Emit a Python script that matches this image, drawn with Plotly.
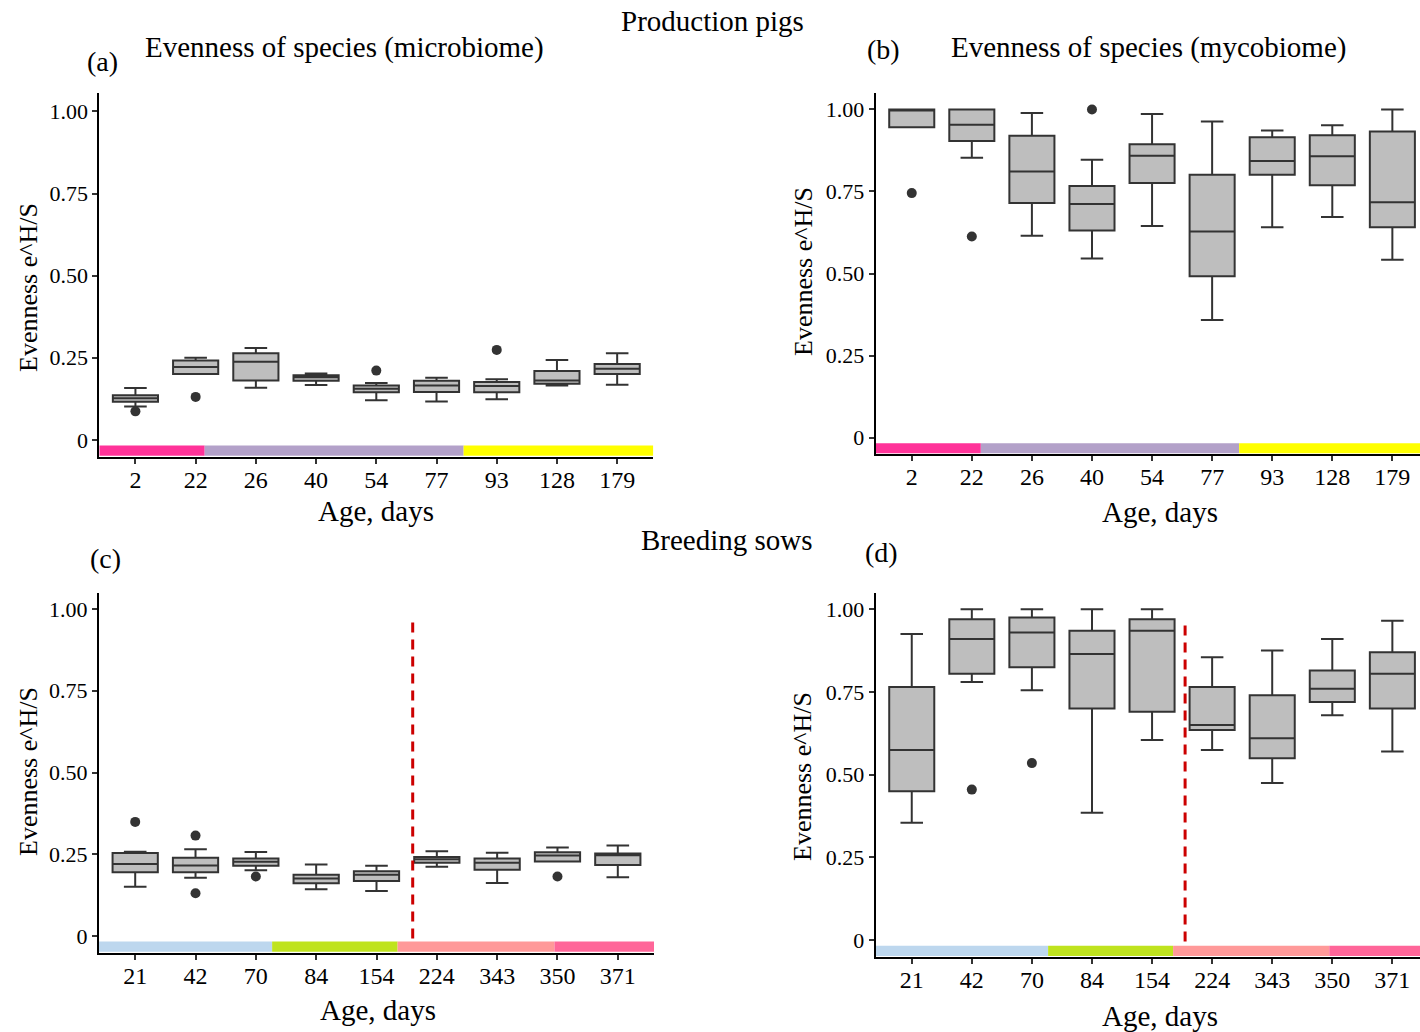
import plotly.graph_objects as go

# ---------------- data ----------------
prod_ages = ["2", "22", "26", "40", "54", "77", "93", "128", "179"]
sow_ages = ["21", "42", "70", "84", "154", "224", "343", "350", "371"]

# (a) microbiome, production pigs
a_low = [0.102, 0.201, 0.159, 0.167, 0.121, 0.117, 0.124, 0.166, 0.168]
a_q1 = [0.116, 0.201, 0.181, 0.180, 0.145, 0.146, 0.145, 0.171, 0.201]
a_med = [0.127, 0.222, 0.238, 0.191, 0.156, 0.166, 0.164, 0.181, 0.217]
a_q3 = [0.136, 0.242, 0.264, 0.197, 0.166, 0.180, 0.176, 0.210, 0.231]
a_up = [0.158, 0.250, 0.280, 0.202, 0.173, 0.189, 0.185, 0.243, 0.264]
a_out_x = ["2", "22", "54", "93"]
a_out_y = [0.087, 0.131, 0.211, 0.274]

# (b) mycobiome, production pigs
b_low = [0.946, 0.853, 0.615, 0.546, 0.645, 0.358, 0.641, 0.672, 0.542]
b_q1 = [0.946, 0.904, 0.715, 0.631, 0.776, 0.492, 0.801, 0.769, 0.641]
b_med = [1.000, 0.953, 0.811, 0.712, 0.859, 0.628, 0.843, 0.857, 0.717]
b_q3 = [1.000, 1.000, 0.920, 0.767, 0.894, 0.801, 0.915, 0.921, 0.933]
b_up = [1.000, 1.000, 0.989, 0.847, 0.986, 0.963, 0.936, 0.952, 1.000]
b_out_x = ["2", "22", "40"]
b_out_y = [0.745, 0.613, 1.000]

# (c) microbiome, breeding sows
c_low = [0.151, 0.178, 0.201, 0.143, 0.138, 0.212, 0.162, 0.228, 0.180]
c_q1 = [0.195, 0.195, 0.215, 0.161, 0.168, 0.224, 0.203, 0.228, 0.217]
c_med = [0.220, 0.216, 0.227, 0.176, 0.187, 0.235, 0.224, 0.246, 0.247]
c_q3 = [0.254, 0.239, 0.237, 0.187, 0.198, 0.242, 0.237, 0.256, 0.252]
c_up = [0.258, 0.265, 0.257, 0.219, 0.215, 0.259, 0.255, 0.271, 0.277]
c_out_x = ["21", "42", "42", "70", "350"]
c_out_y = [0.349, 0.307, 0.131, 0.182, 0.182]

# (d) mycobiome, breeding sows
d_low = [0.355, 0.780, 0.755, 0.385, 0.605, 0.575, 0.475, 0.680, 0.570]
d_q1 = [0.450, 0.805, 0.825, 0.700, 0.690, 0.635, 0.550, 0.720, 0.700]
d_med = [0.575, 0.910, 0.930, 0.865, 0.935, 0.650, 0.610, 0.760, 0.805]
d_q3 = [0.765, 0.970, 0.975, 0.935, 0.970, 0.765, 0.740, 0.815, 0.870]
d_up = [0.925, 1.000, 1.000, 1.000, 1.000, 0.855, 0.875, 0.910, 0.965]
d_out_x = ["42", "70"]
d_out_y = [0.455, 0.535]

# colour strips under the x axis: (start, end, colour) in category-index units
prod_strip = [(-0.6, 1.15, "#FF3399"), (1.15, 5.45, "#B3A1C9"), (5.45, 8.6, "#FFFF00")]
sow_strip = [(-0.6, 2.27, "#BDD7EE"), (2.27, 4.35, "#BFE31E"),
             (4.35, 6.95, "#FF9999"), (6.95, 8.6, "#FF6699")]

# ---------------- figure ----------------
W, H = 1420, 1032
FONT = "Liberation Serif"
BOX_FILL = "#BEBEBE"
BOX_LINE = "#333333"

fig = go.Figure()

panels = [
    ("a", "x", "y", prod_ages, a_low, a_q1, a_med, a_q3, a_up, a_out_x, a_out_y, prod_strip,
     (99.3, 653.3), (92.7, 457.0), 8.6, (-0.052, 1.057)),
    ("b", "x2", "y2", prod_ages, b_low, b_q1, b_med, b_q3, b_up, b_out_x, b_out_y, prod_strip,
     (875.7, 1420), (92.7, 454.3), 8.46, (-0.051, 1.051)),
    ("c", "x3", "y3", sow_ages, c_low, c_q1, c_med, c_q3, c_up, c_out_x, c_out_y, sow_strip,
     (99.0, 654.0), (592.7, 953.0), 8.6, (-0.052, 1.05)),
    ("d", "x4", "y4", sow_ages, d_low, d_q1, d_med, d_q3, d_up, d_out_x, d_out_y, sow_strip,
     (875.7, 1420), (592.7, 956.7), 8.46, (-0.05, 1.05)),
]

shapes = []
for i, (nm, xa, ya, cats, lo, q1, med, q3, up, ox, oy, strip, xd, yd, xmax, yr) in enumerate(panels):
    fig.add_trace(go.Box(
        x=cats, q1=q1, median=med, q3=q3, lowerfence=lo, upperfence=up,
        xaxis=xa, yaxis=ya, width=0.75, whiskerwidth=0.5,
        fillcolor=BOX_FILL, line=dict(color=BOX_LINE, width=2),
        boxpoints=False, showlegend=False, hoverinfo="skip",
    ))
    fig.add_trace(go.Scatter(
        x=ox, y=oy, xaxis=xa, yaxis=ya, mode="markers",
        marker=dict(color="#333333", size=10), showlegend=False, hoverinfo="skip",
    ))
    for (s0, s1, col) in strip:
        shapes.append(dict(type="rect", xref=xa, yref=ya, x0=s0, x1=min(s1, xmax),
                           y0=-0.048, y1=-0.017, fillcolor=col, line=dict(width=0),
                           layer="below"))
    sfx = "" if i == 0 else str(i + 1)
    fig.layout["xaxis" + sfx] = dict(
        domain=[xd[0] / W, xd[1] / W], anchor=ya, type="category",
        categoryorder="array", categoryarray=cats, range=[-0.6, xmax],
        showline=True, linecolor="black", linewidth=2, mirror=False,
        ticks="outside", ticklen=5, tickwidth=1.5, tickcolor="#333333",
        ticklabelstandoff=-5,
        showgrid=False, zeroline=False,
        tickfont=dict(family=FONT, size=24, color="black"),
    )
    fig.layout["yaxis" + sfx] = dict(
        domain=[1 - yd[1] / H, 1 - yd[0] / H], anchor=xa, range=list(yr),
        tickvals=[0, 0.25, 0.5, 0.75, 1.0], ticktext=["0", "0.25", "0.50", "0.75", "1.00"],
        showline=True, linecolor="black", linewidth=2, mirror=False,
        ticks="outside", ticklen=5, tickwidth=1.5, tickcolor="#333333",
        showgrid=False, zeroline=False,
        tickfont=dict(family=FONT, size=22, color="black"),
    )

# red dashed separators in sow panels
shapes.append(dict(type="line", xref="x3", yref="y3", x0=4.6, x1=4.6, y0=-0.008, y1=0.96,
                   line=dict(color="#CC0000", width=3, dash="10px,7px")))
shapes.append(dict(type="line", xref="x4", yref="y4", x0=4.55, x1=4.55, y0=-0.004, y1=0.962,
                   line=dict(color="#CC0000", width=3, dash="10px,7px")))

def ann(text, px, py, size, angle=0):
    return dict(text=text, x=px / W, y=1 - py / H, xref="paper", yref="paper",
                showarrow=False, xanchor="center", yanchor="middle", textangle=angle,
                font=dict(family=FONT, size=size, color="black"))

annotations = [
    ann("Production pigs", 712, 21, 29),
    ann("Breeding sows", 727, 540, 29),
    ann("(a)", 102, 62, 28),
    ann("Evenness of species (microbiome)", 344, 48, 29),
    ann("(b)", 884, 50, 28),
    ann("Evenness of species (mycobiome)", 1148, 48, 29),
    ann("(c)", 105, 558, 28),
    ann("(d)", 882, 552, 28),
    ann("Age, days", 376, 511, 29),
    ann("Age, days", 1160, 512, 29),
    ann("Age, days", 378, 1010, 29),
    ann("Age, days", 1160, 1016, 29),
    ann("Evenness e^H/S", 28, 288, 26, -90),
    ann("Evenness e^H/S", 803, 272, 26, -90),
    ann("Evenness e^H/S", 28, 772, 26, -90),
    ann("Evenness e^H/S", 802, 777, 26, -90),
]

fig.update_layout(
    width=W, height=H, margin=dict(l=0, r=0, t=0, b=0),
    paper_bgcolor="white", plot_bgcolor="white",
    shapes=shapes, annotations=annotations, showlegend=False,
    font=dict(family=FONT, color="black"),
)

fig.write_html("out.html")
